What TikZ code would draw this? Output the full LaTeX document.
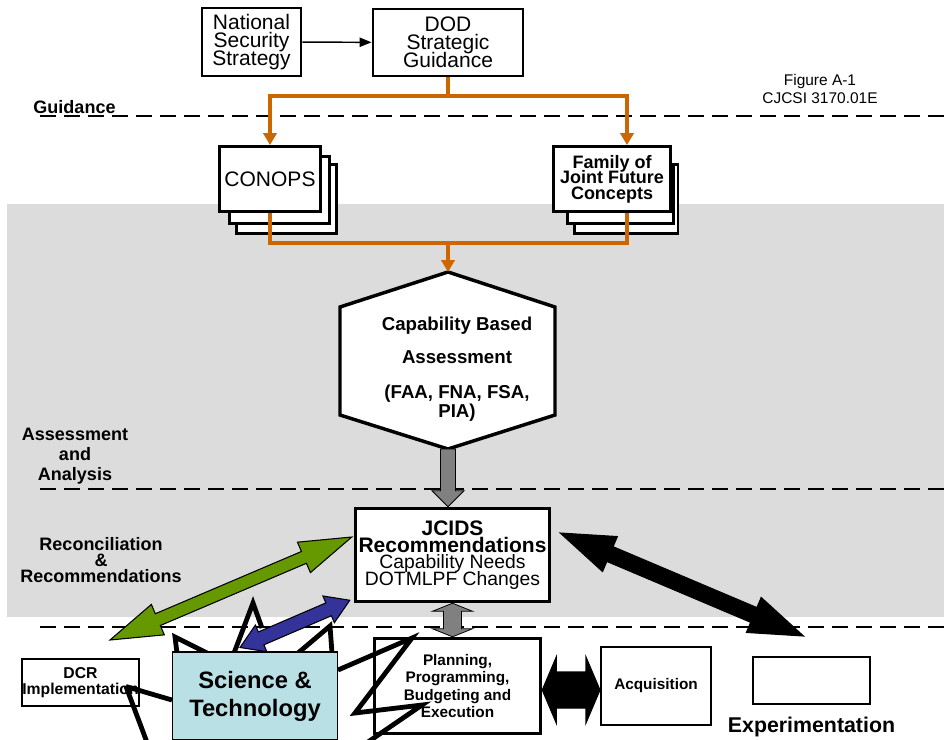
\documentclass[tikz,border=0pt]{standalone}
\usepackage{fontspec}
\setmainfont{Liberation Sans}
\usetikzlibrary{arrows.meta,calc,positioning}

\definecolor{orangeline}{RGB}{204,102,0}
\definecolor{bandgray}{RGB}{220,220,220}
\definecolor{arrowgray}{RGB}{128,128,128}
\definecolor{recongreen}{RGB}{102,153,0}
\definecolor{stblue}{RGB}{51,51,153}
\definecolor{stfill}{RGB}{185,224,229}

\newcommand{\px}{0.75pt}
\newcommand{\fsize}[2]{\fontsize{#1}{#2}\selectfont\lineskiplimit=-30pt\relax}
\newcommand{\jtitle}{\bfseries\fontsize{15.75}{12}\selectfont}

% fat arrow with a head at both tips: options, tip, tip, half shaft, half head, head length
\newcommand{\fatdouble}[6]{%
  \draw[#1] (#2)
    -- ($(#2)!#6!(#3)!#5!90:(#3)$) -- ($(#2)!#6!(#3)!#4!90:(#3)$)
    -- ($(#3)!#6!(#2)!#4!-90:(#2)$) -- ($(#3)!#6!(#2)!#5!-90:(#2)$)
    -- (#3)
    -- ($(#3)!#6!(#2)!#5!90:(#2)$) -- ($(#3)!#6!(#2)!#4!90:(#2)$)
    -- ($(#2)!#6!(#3)!#4!-90:(#3)$) -- ($(#2)!#6!(#3)!#5!-90:(#3)$)
    -- cycle;}
% fat arrow with one head: options, tail, tip, half shaft, half head, head length
\newcommand{\fatsingle}[6]{%
  \draw[#1] ($(#2)!#4!90:(#3)$)
    -- ($(#3)!#6!(#2)!#4!-90:(#2)$) -- ($(#3)!#6!(#2)!#5!-90:(#2)$)
    -- (#3)
    -- ($(#3)!#6!(#2)!#5!90:(#2)$) -- ($(#3)!#6!(#2)!#4!90:(#2)$)
    -- ($(#2)!#4!-90:(#3)$) -- cycle;}

\begin{document}
\begin{tikzpicture}[
  x=0.75pt, y=-0.75pt,
  box/.style = {draw, fill=white, line width=2.2pt, inner sep=0pt, align=center},
  stackbox/.style = {draw, fill=white, line width=2.2pt},
  oline/.style = {draw=orangeline, line width=3pt},
  dashline/.style = {line width=2.2pt, dash pattern=on 12pt off 6pt},
  zig/.style = {line width=3.6pt},
  lbl/.style = {inner sep=0pt, align=center, font=\bfseries\fsize{13.5}{15}},
  fat/.style = {line width=0.8pt, draw=black},
  > = {Triangle[length=9pt,width=10pt]}
  ]
  \useasboundingbox (0,0) rectangle (944,739);
  \clip (0,0) rectangle (944,739);

  % bands
  \fill[bandgray] (7,204) rectangle (944,617);
  \draw[dashline] (40,116) -- (944,116);
  \draw[dashline] (40,489) -- (944,489);
  \draw[dashline] (40,627) -- (944,627);

  \node[lbl] (guid) at (74.5,107) {Guidance};
  \node[lbl] (assess) at (75,456) {Assessment\\and\\Analysis};
  \node[lbl, font=\bfseries\fsize{13.5}{12}] (recon) at (101,560) {Reconciliation\\\&\\Recommendations};
  \node[inner sep=0pt, align=center, font=\fsize{11.6}{13.5}] (fig) at (820,89) {Figure A-1\\CJCSI 3170.01E};

  % guidance
  \node[box, minimum width=99*\px, minimum height=68*\px, font=\fsize{15.75}{13.5}] (nss) at (251.5,42) {National\\Security\\Strategy};
  \node[box, minimum width=150*\px, minimum height=67*\px, font=\fsize{15.75}{13.5}] (dod) at (448,42.5) {DOD\\Strategic\\Guidance};
  \draw[line width=1.1pt, -{Triangle[length=9pt,width=7pt]}] (nss) -- (dod);

  \draw[stackbox] (236.5,164.5) rectangle (336.5,233.5);
  \draw[stackbox] (229.5,156.5) rectangle (329.5,223.5);
  \node[box, minimum width=101*\px, minimum height=65*\px, font=\fsize{15.75}{13.5}] (conops) at (270,179) {CONOPS};

  \draw[stackbox] (574.5,164.5) rectangle (678,233.5);
  \draw[stackbox] (567.5,164.5) rectangle (673.5,223.5);
  \node[box, minimum width=117*\px, minimum height=65*\px, font=\bfseries\fsize{13.5}{11.6}] (jfc) at (612,179) {Family of\\Joint Future\\Concepts};

  \coordinate (split) at (448,96);
  \coordinate (merge) at (448,243);
  \draw[oline] (dod.south) -- (split);
  \draw[oline,->] (split) -| (conops.north);
  \draw[oline,->] (split) -| ($(jfc.north)+(15,0)$);
  \draw[oline] (conops.south) |- (merge) -| ($(jfc.south)+(15,0)$);

  % assessment
  \coordinate (cbatop) at (448,272);
  \coordinate (cbabot) at (448,449);
  \draw[line width=2.6pt, fill=white] (cbatop) -- (555,307) -- (555,415) -- (cbabot) -- (340,415) -- (340,307) -- cycle;
  \node[inner sep=0pt, align=center, font=\bfseries\fsize{14}{14.25}] (cba) at (457,369) {Capability Based\\[10.5pt]Assessment\\[12pt](FAA, FNA, FSA,\\PIA)};
  \draw[oline,->] (merge) -- (cbatop);

  \node[box, line width=2.6pt, minimum width=194*\px, minimum height=93*\px, font=\fsize{14.5}{12.4}] (jcids) at (452.5,555) {\jtitle JCIDS\\\jtitle Recommendations\\Capability Needs\\DOTMLPF Changes};
  \coordinate (cbain) at (cbabot |- jcids.north);
  \fatsingle{fat, fill=arrowgray, line width=0.6pt}{cbabot}{cbain}{5.6pt}{12pt}{12pt}

  % lower row
  \node[box, line width=1.5pt, minimum width=117*\px, minimum height=47*\px, font=\bfseries\fsize{11.8}{12}] (dcr) at (80.5,682.5) {DCR\\Implementation};
  \node[box, line width=2.6pt, minimum width=166*\px, minimum height=95*\px, font=\bfseries\fsize{11.5}{13}] (ppbe) at (457.5,686) {Planning,\\Programming,\\Budgeting and\\Execution};
  \node[box, line width=1.5pt, minimum width=110*\px, minimum height=78*\px, font=\bfseries\fsize{11.5}{13}] (acq) at (656,686) {Acquisition};
  \node[box, line width=1.5pt, minimum width=117*\px, minimum height=47*\px] (expbox) at (811.5,680.5) {};
  \node[inner sep=0pt, font=\bfseries\fsize{16}{16}, below=9pt of expbox] (explabel) {Experimentation};

  \draw[zig] ($(dcr.east)+(-14,4)$) -- (148,745);
  \draw[zig] (177,653) -- (175,637) -- (207,653);
  \draw[zig] (234,653) -- (253,603) -- (262,628);
  \draw[zig] (298,653) -- (330,626) -- (332,653);
  \draw[zig] (338,670) -- (412,638) -- (355,713) -- (422,705) -- (368,742);

  \node[box, fill=stfill, line width=0.8pt, minimum width=165*\px, minimum height=88*\px, font=\bfseries\fsize{17.8}{21}] (snt) at (255,696) {Science \&\\Technology};
  \draw[zig] ($(snt.west)+(0,4)$) -- ($(dcr.east)+(-14,4)$);

  % two way links
  \coordinate (grA) at (110,640);
  \coordinate (grB) at ($(jcids.west)+(-2,-18)$);
  \coordinate (blA) at ($(snt.north)+(-15,-4)$);
  \coordinate (blB) at ($(jcids.south west)+(-4,-3)$);
  \coordinate (bkA) at ($(jcids.east)+(9,-22)$);
  \coordinate (bkB) at ($(expbox.north)+(-8,-20)$);
  \fatdouble{fat, fill=recongreen}{grA}{grB}{4.8pt}{12.4pt}{39pt}
  \fatdouble{fat, fill=stblue}{blA}{blB}{5.25pt}{10.9pt}{17.25pt}
  \fatdouble{fat, fill=black}{bkA}{bkB}{6pt}{14.25pt}{40.5pt}
  \coordinate (ppin) at (jcids.south |- ppbe.north);
  \fatdouble{fat, fill=arrowgray, line width=0.6pt}{jcids.south}{ppin}{6.75pt}{15pt}{6pt}
  \coordinate (pA) at ($(ppbe.east)+(0,4)$);
  \coordinate (pB) at ($(acq.west)+(0,4)$);
  \fatdouble{fat, fill=black}{pA}{pB}{13.5pt}{24.75pt}{10.5pt}

\end{tikzpicture}
\end{document}
